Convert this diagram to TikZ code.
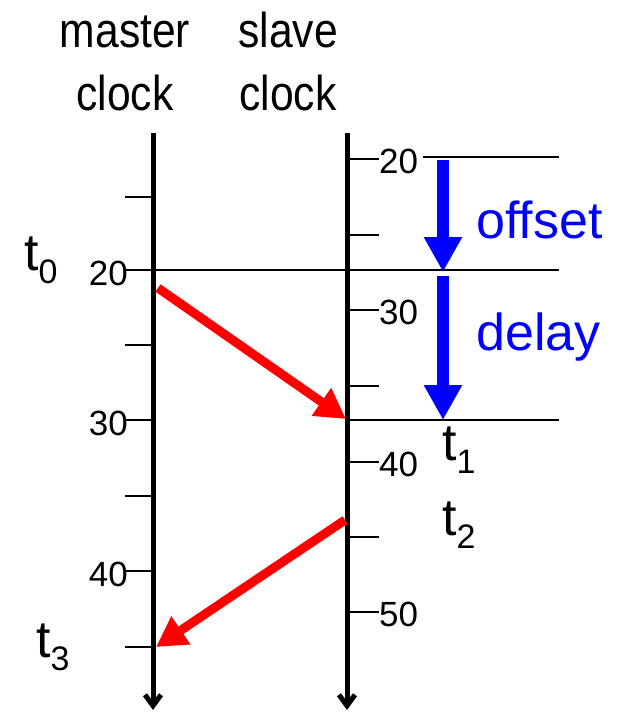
\documentclass[tikz,border=0pt]{standalone}
\usepackage{fontspec}
\setmainfont{Liberation Sans}
\newfontfamily\narrowsans[FakeStretch=0.87]{Liberation Sans}
\usetikzlibrary{arrows.meta}
\newcommand{\tlab}[1]{t\raisebox{-13pt}{\fontsize{34}{34}\selectfont #1}}

\begin{document}
\begin{tikzpicture}[
  x=1pt,y=-1pt,
  timeline/.style={line width=5pt,-{Straight Barb[length=11pt,width=16pt]}},
  tickmark/.style={line width=1.3pt},
  msg/.style={red,line width=9pt,-{Triangle[length=30pt,width=32pt]}},
  gap/.style={blue,line width=12pt,-{Triangle[length=35pt,width=36pt]}},
  header/.style={font=\narrowsans\fontsize{49}{63}\selectfont,align=center,inner sep=0pt},
  num/.style={font=\fontsize{35}{35}\selectfont,inner sep=0pt},
  event/.style={font=\fontsize{52}{52}\selectfont,inner sep=0pt,anchor=base west},
  gaplabel/.style={blue,font=\fontsize{52}{52}\selectfont,inner sep=0pt,anchor=base west}
]
  \useasboundingbox (0,0) rectangle (627,712);

  % clocks
  \node[header,anchor=base] (master) at (125,110) {master\\clock};
  \node[header,anchor=base] (slave) at (288,110) {slave\\clock};
  \coordinate (mtop) at (153,133);
  \coordinate (mbot) at (153,710);
  \coordinate (stop) at (347,133);
  \coordinate (sbot) at (347,710);
  \draw[timeline] (mtop) -- (mbot);
  \draw[timeline] (stop) -- (sbot);

  % ticks, master on the left, slave on the right
  \foreach \y in {197,345,496,647}
    \draw[tickmark] (125,\y) -- (153,\y);
  \foreach \y/\v in {270/20,420/30,571/40} {
    \draw[tickmark] (125,\y) -- (153,\y);
    \node[num,anchor=base east] (m\v) at (128,\y+15) {\v};
  }
  \foreach \y in {235,386,537}
    \draw[tickmark] (347,\y) -- (379,\y);
  \foreach \y/\v in {159/20,310/30,462/40,612/50} {
    \draw[tickmark] (347,\y) -- (379,\y);
    \node[num,anchor=base west] (s\v) at (379,\y+14) {\v};
  }

  % reference lines
  \coordinate (sync) at (153,270);
  \coordinate (recv) at (347,420);
  \coordinate (ref) at (423,157);
  \draw[tickmark] (ref) -- (559,157);
  \draw[tickmark] (sync) -- (559,270);
  \draw[tickmark] (recv) -- (559,420);

  % messages
  \coordinate (send) at (158,288);
  \coordinate (reply) at (345,520);
  \coordinate (back) at (156,647);
  \draw[msg] (send) -- (346,419);
  \draw[msg] (reply) -- (back);

  % offset and delay
  \coordinate (off1) at (443,160);
  \coordinate (off2) at (443,272);
  \coordinate (del1) at (443,276);
  \coordinate (del2) at (443,420);
  \draw[gap] (off1) -- (off2);
  \draw[gap] (del1) -- (del2);
  \node[gaplabel] (offset) at (476,238) {offset};
  \node[gaplabel] (delay) at (476,350) {delay};

  % time stamps
  \node[event] (t0) at (24,270) {\tlab{0}};
  \node[event] (t1) at (442,460) {\tlab{1}};
  \node[event] (t2) at (442,535) {\tlab{2}};
  \node[event] (t3) at (36,657) {\tlab{3}};
\end{tikzpicture}
\end{document}
